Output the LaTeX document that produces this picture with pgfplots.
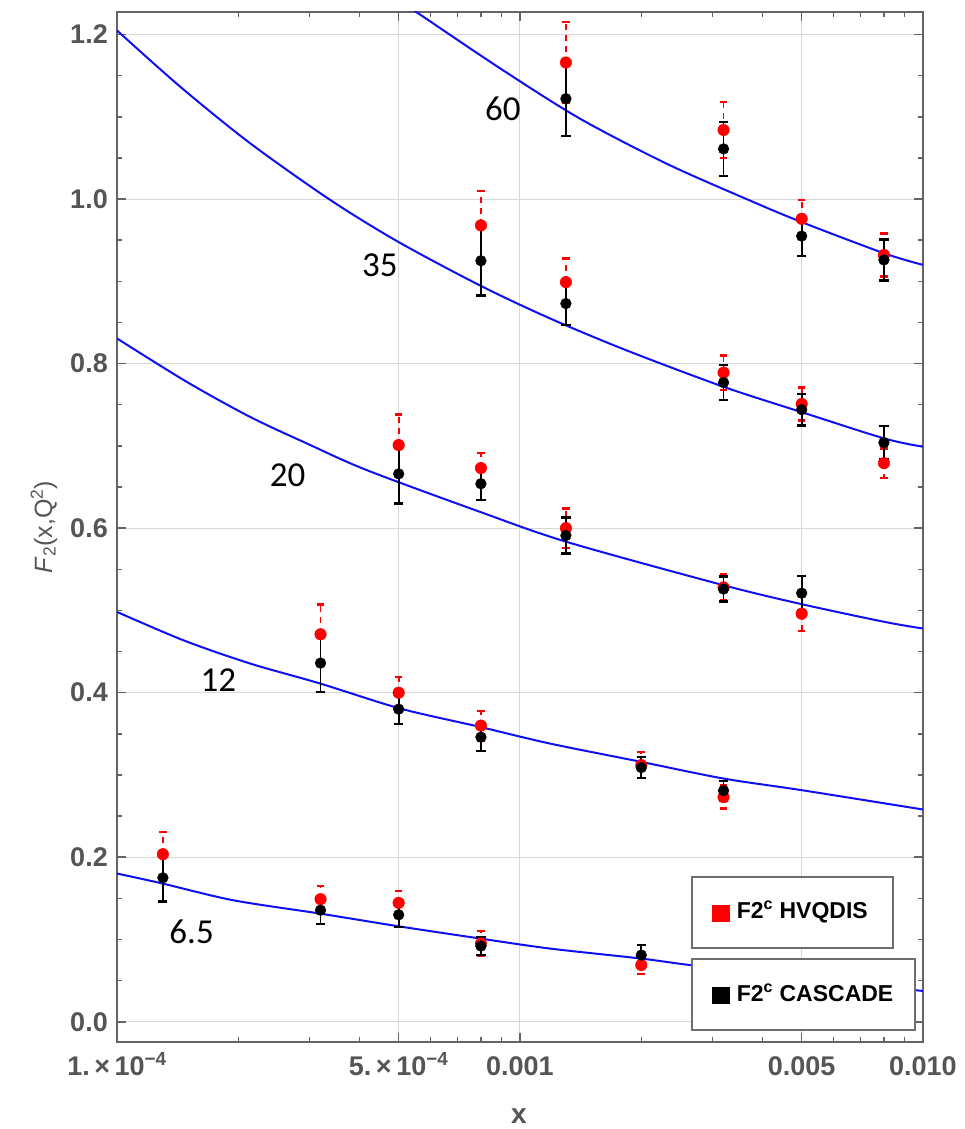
\documentclass[border=0pt]{standalone}
\usepackage{fontspec}
\setmainfont{Liberation Sans}
\newfontfamily\calibri{Carlito}
\usepackage{pgfplots}
\pgfplotsset{compat=1.18}
\usepackage{pgfplotstable}
\definecolor{framegray}{RGB}{100,100,100}
\definecolor{txtgray}{RGB}{85,85,85}
\definecolor{gridgray}{RGB}{215,215,215}
\definecolor{curveblue}{RGB}{15,15,245}
\definecolor{legframe}{RGB}{110,110,110}

% HVQDIS (red) points: x, F2c, error
\pgfplotstableread{
x y e
1.3e-4 0.2036 0.027
3.2e-4 0.149 0.016
5e-4 0.1445 0.0145
8e-4 0.095 0.015
2e-3 0.069 0.011
3.2e-4 0.471 0.036
5e-4 0.400 0.019
8e-4 0.360 0.018
2e-3 0.312 0.016
3.2e-3 0.273 0.014
5e-4 0.701 0.037
8e-4 0.673 0.018
1.3e-3 0.600 0.024
3.2e-3 0.528 0.016
5e-3 0.496 0.021
8e-4 0.968 0.042
1.3e-3 0.899 0.029
3.2e-3 0.789 0.021
5e-3 0.751 0.020
8e-3 0.679 0.018
1.3e-3 1.166 0.049
3.2e-3 1.084 0.034
5e-3 0.976 0.023
8e-3 0.932 0.026
}\hvqdis

% CASCADE (black) points
\pgfplotstableread{
x y e
1.3e-4 0.175 0.029
3.2e-4 0.1356 0.017
5e-4 0.130 0.015
8e-4 0.092 0.011
2e-3 0.081 0.012
3.2e-4 0.436 0.035
5e-4 0.380 0.018
8e-4 0.346 0.017
2e-3 0.309 0.013
3.2e-3 0.281 0.012
5e-4 0.666 0.036
8e-4 0.654 0.020
1.3e-3 0.591 0.022
3.2e-3 0.526 0.015
5e-3 0.521 0.021
8e-4 0.925 0.042
1.3e-3 0.873 0.026
3.2e-3 0.777 0.021
5e-3 0.744 0.019
8e-3 0.704 0.020
1.3e-3 1.122 0.045
3.2e-3 1.061 0.033
5e-3 0.955 0.024
8e-3 0.926 0.025
}\cascade

\pgfplotstableread{
x y
1.0e-4 0.1802
1.298e-4 0.168
1.943e-4 0.1477
3.19e-4 0.1315
4.989e-4 0.1161
7.96e-4 0.1012
1.186e-3 0.089
2.0e-3 0.0768
2.667e-3 0.0687
5.0e-3 0.0538
8.0e-3 0.0427
1.0e-2 0.0374
}\cA

\pgfplotstableread{
x y
1.0e-4 0.4982
1.460e-4 0.4638
2.138e-4 0.4355
3.19e-4 0.4112
5.04e-4 0.3808
7.96e-4 0.3584
1.186e-3 0.3382
2.0e-3 0.3159
3.195e-3 0.2957
5.0e-3 0.2815
1.0e-2 0.2580
}\cB

\pgfplotstableread{
x y
1.0e-4 0.8306
1.489e-4 0.7779
2.138e-4 0.7353
2.958e-4 0.7030
4.169e-4 0.6705
7.96e-4 0.6198
1.306e-3 0.5833
3.195e-3 0.5307
5.0e-3 0.5076
8.02e-3 0.4861
1.0e-2 0.4780
}\cC

\pgfplotstableread{
x y
1.0e-4 1.205
1.432e-4 1.137
2.138e-4 1.068
3.381e-4 0.999
4.989e-4 0.948
7.96e-4 0.895
1.186e-3 0.855
1.841e-3 0.816
3.192e-3 0.772
5.0e-3 0.741
8.02e-3 0.709
1.0e-2 0.699
}\cD

\pgfplotstableread{
x y
5.0e-4 1.242
5.546e-4 1.227
8.92e-4 1.159
1.406e-3 1.098
2.312e-3 1.043
3.69e-3 0.999
5.0e-3 0.972
8.02e-3 0.934
1.0e-2 0.920
}\cE

\begin{document}
\begin{tikzpicture}
\useasboundingbox (-117pt,-87pt) rectangle (848pt,1042pt);
\begin{axis}[
  at={(0,0)}, anchor=south west,
  scale only axis, width=806pt, height=1030pt,
  xmode=log, xmin=1e-4, xmax=1e-2,
  ymin=-0.0246, ymax=1.2274,
  xtick={1e-4,5e-4,1e-3,5e-3,1e-2},
  xticklabels={1.\,×\,10\textsuperscript{−4},5.\,×\,10\textsuperscript{−4},0.001,0.005,0.010},
  minor xtick={2e-4,3e-4,4e-4,6e-4,7e-4,8e-4,9e-4,2e-3,3e-3,4e-3,6e-3,7e-3,8e-3,9e-3},
  ytick={0,0.2,0.4,0.6,0.8,1.0,1.2},
  yticklabels={0.0,0.2,0.4,0.6,0.8,1.0,1.2},
  minor ytick={0.05,0.1,0.15,0.25,0.3,0.35,0.45,0.5,0.55,0.65,0.7,0.75,0.85,0.9,0.95,1.05,1.1,1.15},
  xmajorgrids, ymajorgrids,
  major grid style={gridgray, line width=1pt},
  axis line style={framegray, line width=2.6pt},
  tick style={framegray, line width=1.5pt},
  major tick length=9pt, minor tick length=5pt,
  tick align=inside,
  xticklabel style={font=\bfseries\fontsize{27}{32}\selectfont, text=txtgray, anchor=base, inner sep=0pt, yshift=-33pt},
  yticklabel style={font=\bfseries\fontsize{27}{32}\selectfont, text=txtgray, anchor=east, inner sep=0pt, xshift=-9pt},
  xlabel={x},
  xlabel style={at={(axis description cs:0.4988,0)}, anchor=base, inner sep=0pt, yshift=-81pt, font=\bfseries\fontsize{28}{32}\selectfont, text=txtgray},
  ylabel={\textit{F}\textsubscript{2}(x,Q\textsuperscript{2})},
  ylabel style={at={(axis description cs:-0.0806,0.5)}, anchor=base, rotate=0, inner sep=0pt, font=\fontsize{25}{30}\selectfont, text=txtgray},
]
\addplot[curveblue, line width=2pt, smooth] table[x=x,y=y] {\cA};
\addplot[curveblue, line width=2pt, smooth] table[x=x,y=y] {\cB};
\addplot[curveblue, line width=2pt, smooth] table[x=x,y=y] {\cC};
\addplot[curveblue, line width=2pt, smooth] table[x=x,y=y] {\cD};
\addplot[curveblue, line width=2pt, smooth] table[x=x,y=y] {\cE};

\addplot[only marks, mark=*, mark size=5.8pt, red, mark options={fill=red, draw=red, solid},
  error bars/.cd, y dir=both, y explicit,
  error bar style={red, line width=1.8pt, dash pattern=on 6pt off 5pt},
  error mark=|,
  error mark options={red, mark size=3.8pt, line width=2.4pt, solid}]
  table[x=x,y=y,y error=e] {\hvqdis};
\addplot[only marks, mark=*, mark size=5.4pt, black, mark options={fill=black, draw=black},
  error bars/.cd, y dir=both, y explicit,
  error bar style={black, line width=1.8pt},
  error mark=|,
  error mark options={black, mark size=4.6pt, line width=2.4pt}]
  table[x=x,y=y,y error=e] {\cascade};

\node[font=\calibri\fontsize{35}{42}\selectfont, inner sep=0pt] at (axis cs:9.07e-4,1.110) {60};
\node[font=\calibri\fontsize{35}{42}\selectfont, inner sep=0pt] at (axis cs:4.49e-4,0.9198) {35};
\node[font=\calibri\fontsize{35}{42}\selectfont, inner sep=0pt] at (axis cs:2.652e-4,0.6644) {20};
\node[font=\calibri\fontsize{35}{42}\selectfont, inner sep=0pt] at (axis cs:1.784e-4,0.4152) {12};
\node[font=\calibri\fontsize{35}{42}\selectfont, inner sep=0pt] at (axis cs:1.532e-4,0.1092) {6.5};
\end{axis}
% legend boxes
\draw[fill=white, draw=legframe, line width=1.5pt] (575pt,94pt) rectangle (776pt,165pt);
\draw[fill=white, draw=legframe, line width=1.5pt] (575pt,12pt) rectangle (798pt,83pt);
\fill[red] (595.3pt,120.3pt) rectangle (613pt,137pt);
\fill[black] (595.3pt,38pt) rectangle (613pt,54.7pt);
\node[anchor=base west, inner sep=0pt, font=\bfseries\fontsize{23}{28}\selectfont] at (619.7pt,123pt) {F2\textsuperscript{c} HVQDIS};
\node[anchor=base west, inner sep=0pt, font=\bfseries\fontsize{23}{28}\selectfont] at (619.7pt,40.3pt) {F2\textsuperscript{c} CASCADE};
\end{tikzpicture}
\end{document}
